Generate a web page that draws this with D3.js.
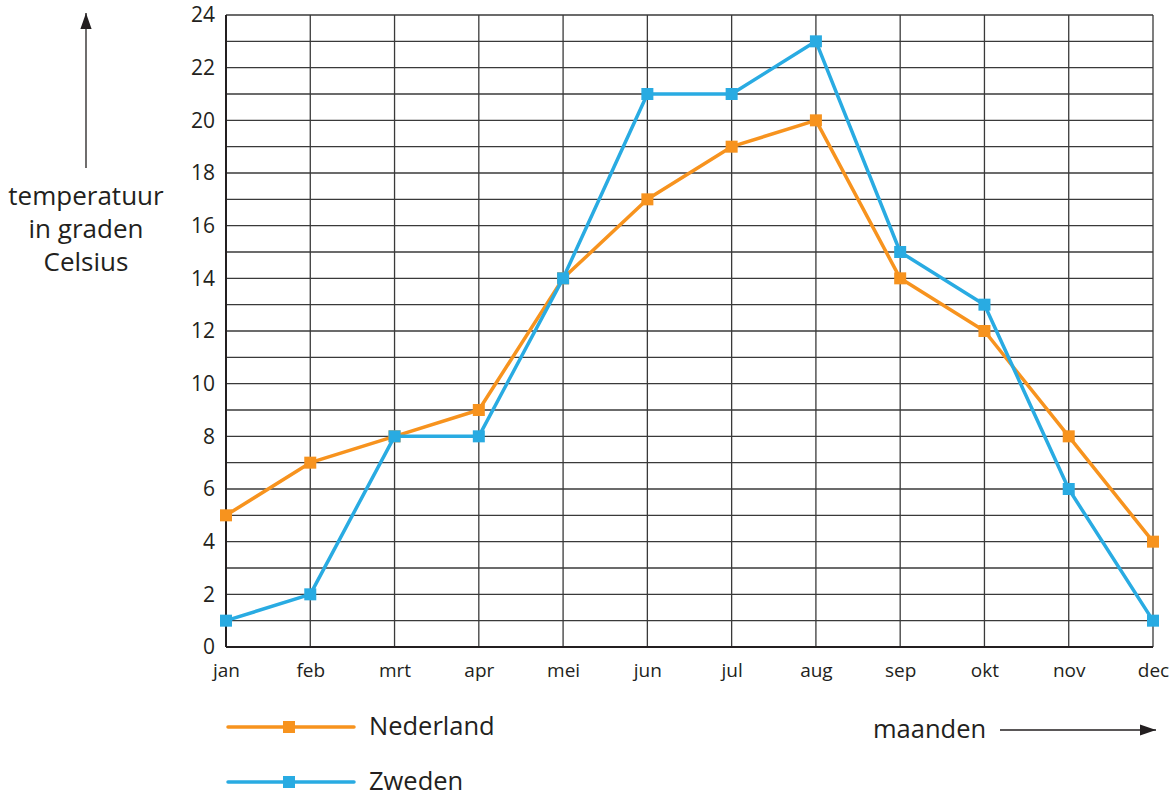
<!DOCTYPE html>
<html><head><meta charset="utf-8">
<script src="https://cdn.jsdelivr.net/npm/d3@7"></script>
<style>body{margin:0;background:#fff;} text{font-family:"Open Sans","Noto Sans",sans-serif;fill:#231f20;}</style>
</head><body>
<svg id="c" width="1176" height="796"></svg>
<script>
const months = ["jan","feb","mrt","apr","mei","jun","jul","aug","sep","okt","nov","dec"];
const nederland = [5,7,8,9,14,17,19,20,14,12,8,4];
const zweden = [1,2,8,8,14,21,21,23,15,13,6,1];
const yTicks = [0,2,4,6,8,10,12,14,16,18,20,22,24];
const seriesNames = ["Nederland","Zweden"];
const colors = ["#F7931E","#29ABE2"];

const svg = d3.select("#c");
const L=226, R=1153, T=15, B=647;
const x = d3.scalePoint().domain(months).range([L,R]);
const y = d3.scaleLinear().domain([0,24]).range([B,T]);

const defs = svg.append("defs");
defs.append("marker").attr("id","ah").attr("viewBox","0 0 10 10").attr("refX",10).attr("refY",5)
  .attr("markerWidth",16).attr("markerHeight",16).attr("markerUnits","userSpaceOnUse").attr("orient","auto")
  .append("path").attr("d","M0,1.5L10,5L0,8.5Z").attr("fill","#231f20");

// grid
const g = svg.append("g");
g.selectAll("line.h").data(d3.range(0,25)).join("line")
  .attr("x1",L).attr("x2",R).attr("y1",d=>y(d)).attr("y2",d=>y(d))
  .attr("stroke","#3a3a3a").attr("stroke-width",1.3);
g.selectAll("line.v").data(months).join("line")
  .attr("x1",d=>x(d)).attr("x2",d=>x(d)).attr("y1",T).attr("y2",B)
  .attr("stroke","#3a3a3a").attr("stroke-width",1.3);
g.append("line").attr("x1",L).attr("x2",L).attr("y1",T).attr("y2",B).attr("stroke","#231f20").attr("stroke-width",2);
g.append("line").attr("x1",L).attr("x2",R).attr("y1",B).attr("y2",B).attr("stroke","#231f20").attr("stroke-width",2);

// axes labels
const yAxis = d3.axisLeft(y).tickValues(yTicks).tickSize(0).tickPadding(11);
const ya = svg.append("g").attr("transform",`translate(${L},0)`).call(yAxis);
ya.select(".domain").remove();
ya.selectAll("text").style("font-size","21px").style("font-family",'"Open Sans","Noto Sans",sans-serif').attr("fill","#231f20");
const xAxis = d3.axisBottom(x).tickSize(0).tickPadding(17);
const xa = svg.append("g").attr("transform",`translate(0,${B})`).call(xAxis);
xa.select(".domain").remove();
xa.selectAll("text").style("font-size","19px").style("font-family",'"Open Sans","Noto Sans",sans-serif').attr("fill","#231f20");

// series
const data = [nederland, zweden];
const line = d3.line().x((d,i)=>x(months[i])).y(d=>y(d));
data.forEach((s,k)=>{
  svg.append("path").attr("d",line(s)).attr("fill","none").attr("stroke",colors[k]).attr("stroke-width",3.5).attr("stroke-linejoin","round");
  svg.selectAll(null).data(s).join("rect")
    .attr("x",(d,i)=>x(months[i])-6).attr("y",d=>y(d)-6).attr("width",12).attr("height",12).attr("fill",colors[k]);
});

// legend
seriesNames.forEach((n,k)=>{
  const yy = 727 + k*55;
  svg.append("line").attr("x1",228).attr("x2",354).attr("y1",yy).attr("y2",yy).attr("stroke",colors[k]).attr("stroke-width",3.5).attr("stroke-linecap","round");
  svg.append("rect").attr("x",283).attr("y",yy-6).attr("width",12).attr("height",12).attr("fill",colors[k]);
  svg.append("text").attr("x",369).attr("y",yy+8).style("font-size","25.5px").text(n);
});

// axis titles
svg.append("text").attr("x",873).attr("y",738).style("font-size","25.5px").text("maanden");
svg.append("line").attr("x1",1000).attr("x2",1156).attr("y1",730).attr("y2",730).attr("stroke","#231f20").attr("stroke-width",1.3).attr("marker-end","url(#ah)");
svg.append("line").attr("x1",86).attr("x2",86).attr("y1",168).attr("y2",13).attr("stroke","#231f20").attr("stroke-width",1.3).attr("marker-end","url(#ah)");
["temperatuur","in graden","Celsius"].forEach((t,i)=>{
  svg.append("text").attr("x",86).attr("y",205+i*33).attr("text-anchor","middle").style("font-size","26px").text(t);
});
</script>
</body></html>
